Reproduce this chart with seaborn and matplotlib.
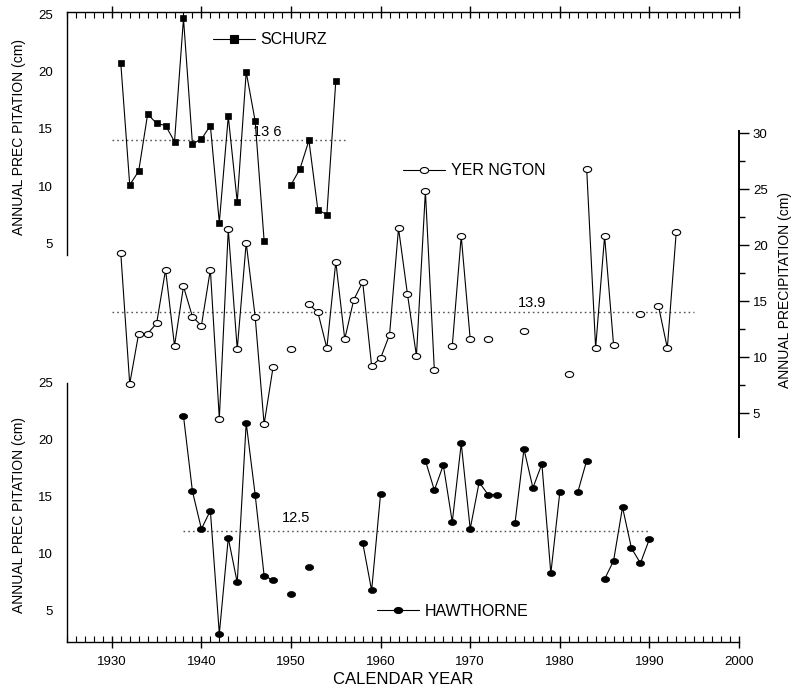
import numpy as np
import pandas as pd
import matplotlib
matplotlib.use("Agg")
import matplotlib.pyplot as plt
import seaborn as sns
from matplotlib.lines import Line2D
from matplotlib.path import Path
from matplotlib.transforms import Affine2D
from matplotlib.ticker import MultipleLocator

# ── data
schurz_years = [1931, 1932, 1933, 1934, 1935, 1936, 1937, 1938, 1939, 1940, 1941, 1942,
                1943, 1944, 1945, 1946, 1947, 1950, 1951, 1952, 1953, 1954, 1955]
schurz_prec = [20.8, 10.1, 11.3, 16.3, 15.5, 15.3, 13.9, 24.7, 13.7, 14.1, 15.3, 6.8,
               16.1, 8.6, 20.0, 15.7, 5.2, 10.1, 11.5, 14.0, 7.9, 7.5, 19.2]

yer_years = [1931, 1932, 1933, 1934, 1935, 1936, 1937, 1938, 1939, 1940, 1941, 1942,
             1943, 1944, 1945, 1946, 1947, 1948, 1950, 1952, 1953, 1954, 1955, 1956,
             1957, 1958, 1959, 1960, 1961, 1962, 1963, 1964, 1965, 1966, 1968, 1969,
             1970, 1972, 1976, 1981, 1983, 1984, 1985, 1986, 1989, 1991, 1992, 1993]
yer_prec = [19.3, 7.6, 12.1, 12.1, 13.0, 17.8, 11.0, 16.3, 13.6, 12.8, 17.8, 4.5,
            21.4, 10.7, 20.2, 13.6, 4.0, 9.1, 10.7, 14.7, 14.0, 10.8, 18.5, 11.6,
            15.1, 16.7, 9.2, 9.9, 12.0, 21.5, 15.6, 10.1, 24.8, 8.8, 11.0, 20.8,
            11.6, 11.6, 12.3, 8.5, 26.8, 10.8, 20.8, 11.1, 13.8, 14.6, 10.8, 21.2]

haw_years = [1938, 1939, 1940, 1941, 1942, 1943, 1944, 1945, 1946, 1947, 1948, 1950,
             1952, 1958, 1959, 1960, 1965, 1966, 1967, 1968, 1969, 1970, 1971, 1972,
             1973, 1975, 1976, 1977, 1978, 1979, 1980, 1982, 1983, 1985, 1986, 1987,
             1988, 1989, 1990]
haw_prec = [22.1, 15.5, 12.2, 13.8, 3.0, 11.4, 7.5, 21.5, 15.2, 8.1, 7.7, 6.5,
            8.9, 11.0, 6.8, 15.3, 18.2, 15.6, 17.8, 12.8, 19.7, 12.2, 16.3, 15.2,
            15.2, 12.7, 19.2, 15.8, 17.9, 8.3, 15.4, 15.4, 18.2, 7.8, 9.4, 14.1,
            10.5, 9.2, 11.3]

# mean lines: level as drawn, year span, printed label
mean_level = {"schurz": 14.05, "yer": 14.0, "haw": 12.05}
mean_span = {"schurz": [1930, 1956], "yer": [1930, 1995], "haw": [1938, 1990]}
mean_text = {"schurz": "13 6", "yer": "13.9", "haw": "12.5"}


def to_frame(years, vals):
    d = pd.DataFrame({"year": years, "prec": vals})
    # a new line segment wherever a year is missing
    d["seg"] = (d["year"].diff() != 1).cumsum()
    return d


sns.set_style("white")
plt.rcParams["font.family"] = ["Liberation Sans", "DejaVu Sans"]
plt.rcParams.update({
    "axes.linewidth": 1.0,
    "axes.edgecolor": "black",
    "text.color": "black",
    "axes.labelcolor": "black",
    "xtick.color": "black",
    "ytick.color": "black",
})

W, H = 794, 690
fig = plt.figure(figsize=(W / 100, H / 100), dpi=100)


def fig_rect(x0, y0, x1, y1):
    # pixel box (top-left origin) -> figure fraction rect
    return [x0 / W, 1 - y1 / H, (x1 - x0) / W, (y1 - y0) / H]


XL, XR = 67, 739
xlim = (1925, 2000)

# base axes: the shared year axis (top + bottom)
ax = fig.add_axes(fig_rect(XL, 12, XR, 642))
ax.set_facecolor("none")
ax.set_xlim(*xlim)
ax.set_yticks([])
for s in ["left", "right"]:
    ax.spines[s].set_visible(False)
ax.xaxis.set_major_locator(MultipleLocator(10))
ax.xaxis.set_minor_locator(MultipleLocator(1))
ax.tick_params(axis="x", which="major", direction="inout", length=8, width=1,
               top=True, bottom=True, labeltop=False, labelsize=9.5, pad=6)
ax.tick_params(axis="x", which="minor", direction="in", length=4, width=0.8,
               top=True, bottom=True)
ax.set_xlabel("CALENDAR YEAR", fontsize=12)
ax.xaxis.set_label_coords(0.5, -0.06)
ax.xaxis.label.set_va("center")

# ellipse markers (the original is slightly squashed)
ellipse = Path(Affine2D().scale(1.0, 0.72).transform(Path.unit_circle().vertices),
               Path.unit_circle().codes)


def panel(rect, ylim, side):
    a = fig.add_axes(rect)
    a.set_facecolor("none")
    a.set_xlim(*xlim)
    a.set_ylim(*ylim)
    a.set_xticks([])
    for s in ["top", "bottom", "left", "right"]:
        a.spines[s].set_visible(s == side)
    a.yaxis.set_major_locator(MultipleLocator(5))
    a.yaxis.set_minor_locator(MultipleLocator(2.5))
    if side == "right":
        a.yaxis.tick_right()
        a.yaxis.set_label_position("right")
        a.spines["right"].set_linewidth(1.4)
    a.tick_params(axis="y", which="major", direction="out", length=7, width=1,
                  labelsize=9.5, pad=3)
    a.tick_params(axis="y", which="minor", direction="out", length=4, width=1)
    return a


ax_s = panel(fig_rect(XL, 12, XR, 255), (3.95, 25.26), "left")
ax_y = panel(fig_rect(XL, 131, XR, 437), (2.86, 30.18), "right")
ax_h = panel(fig_rect(XL, 383, XR, 642), (2.28, 25.0), "left")

line_kw = dict(color="k", linewidth=0.8, estimator=None, legend=False)

sns.lineplot(data=to_frame(schurz_years, schurz_prec), x="year", y="prec", units="seg",
             ax=ax_s, marker="s", markersize=5, markerfacecolor="k",
             markeredgecolor="k", markeredgewidth=0.5, **line_kw)
sns.lineplot(data=to_frame(yer_years, yer_prec), x="year", y="prec", units="seg",
             ax=ax_y, marker=ellipse, markersize=6, markerfacecolor="white",
             markeredgecolor="k", markeredgewidth=0.8, **line_kw)
sns.lineplot(data=to_frame(haw_years, haw_prec), x="year", y="prec", units="seg",
             ax=ax_h, marker=ellipse, markersize=6, markerfacecolor="k",
             markeredgecolor="k", markeredgewidth=0.5, **line_kw)

for a in (ax_s, ax_y, ax_h):
    for ln in a.lines:
        ln.set_clip_on(False)
    a.set_xlabel("")

# dotted mean lines + their values
dot = dict(color="#555555", linewidth=1.0, linestyle=(0, (1.2, 2.2)), zorder=1)
for key, a in (("schurz", ax_s), ("yer", ax_y), ("haw", ax_h)):
    a.plot(mean_span[key], [mean_level[key]] * 2, **dot)
ax_s.text(1945.8, 14.7, mean_text["schurz"], fontsize=10.5, va="center", ha="left")
ax_y.text(1975.3, 14.85, mean_text["yer"], fontsize=10.5, va="center", ha="left")
ax_h.text(1949.0, 13.15, mean_text["haw"], fontsize=10.5, va="center", ha="left")

# axis titles
ax_s.set_ylabel("ANNUAL PREC PITATION (cm)", fontsize=10)
ax_s.yaxis.set_label_coords(-0.071, 0.486)
ax_h.set_ylabel("ANNUAL PREC PITATION (cm)", fontsize=10)
ax_h.yaxis.set_label_coords(-0.071, 0.49)
ax_y.set_ylabel("ANNUAL PRECIPITATION (cm)", fontsize=10, rotation=90)
ax_y.yaxis.set_label_coords(1.069, 0.48)
for a in (ax_s, ax_h, ax_y):
    a.yaxis.label.set_va("center")

# station keys
def key(a, label, marker, mfc, x_px, y_px):
    h = Line2D([], [], color="k", linewidth=0.8, marker=marker, markersize=5.5 if marker == "s" else 6,
               markerfacecolor=mfc, markeredgecolor="k", markeredgewidth=0.8)
    leg = a.legend(handles=[h], labels=[label], loc="center left",
                   bbox_to_anchor=(x_px / W, 1 - y_px / H), bbox_transform=fig.transFigure,
                   frameon=False, fontsize=11.5, handlelength=2.65, handletextpad=0.35,
                   borderpad=0, borderaxespad=0, numpoints=1)
    return leg

key(ax_s, "SCHURZ", "s", "k", 212.7, 40)
key(ax_y, "YER NGTON", ellipse, "white", 403, 170.7)
key(ax_h, "HAWTHORNE", ellipse, "k", 376.7, 611)

fig.savefig("out.png", dpi=100)
